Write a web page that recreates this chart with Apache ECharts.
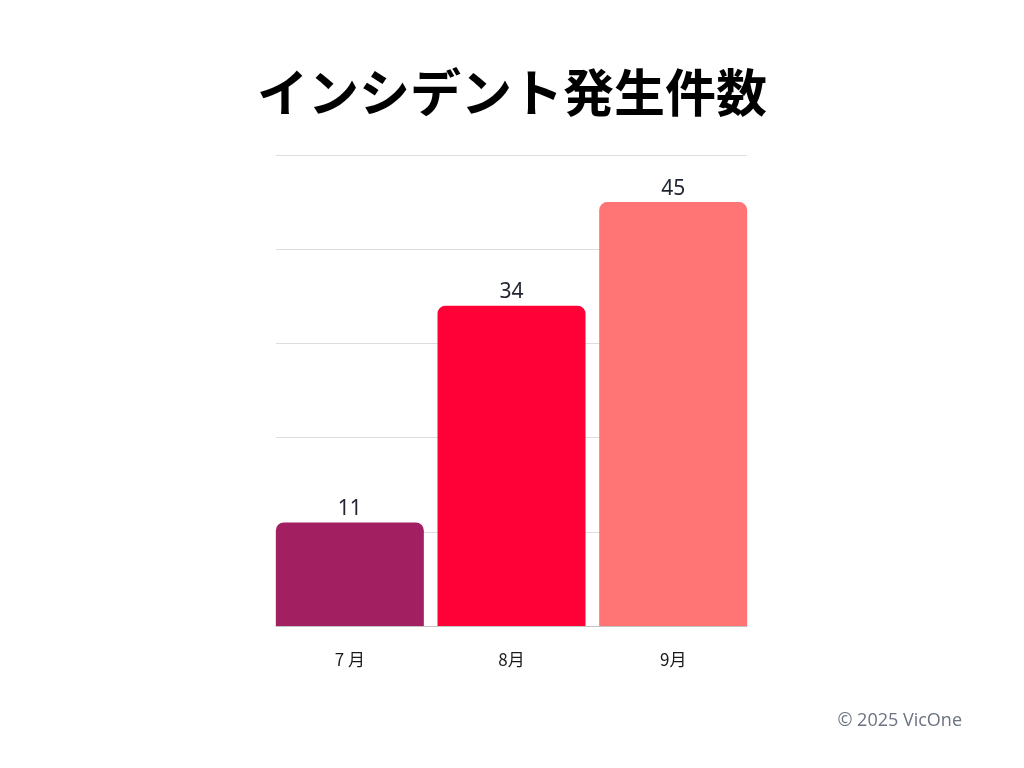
<!DOCTYPE html>
<html>
<head>
<meta charset="utf-8">
<script src="https://cdn.jsdelivr.net/npm/echarts@6/dist/echarts.min.js"></script>
<style>
  html, body { margin: 0; padding: 0; background: #fff; }
  #chart { width: 1024px; height: 768px; }
</style>
</head>
<body>
<div id="chart"></div>
<script>
const months = ["7 月", "8月", "9月"];
const incidents = [11, 34, 45];
const barColors = ["#A21F62", "#FF0037", "#FF7575"];

const chart = echarts.init(document.getElementById("chart"));
const font = "'Noto Sans CJK JP', 'Noto Sans', sans-serif";

const option = {
  backgroundColor: "#fff",
  animation: false,
  title: {
    text: "インシデント発生件数",
    left: "center",
    top: 62,
    textStyle: { fontFamily: font, fontSize: 51, fontWeight: "bold", color: "#000" }
  },
  graphic: [{
    type: "text",
    right: 62,
    top: 712,
    style: { text: "© 2025 VicOne", fontFamily: "'Open Sans', sans-serif", fontSize: 18, fill: "#6B7280" }
  }],
  grid: [
    // gridlines and axis line
    { left: 276, right: 277, top: 155, bottom: 142 },
    // bars, slightly wider so bars reach the gridline ends
    { left: 269, right: 270, top: 155, bottom: 142 }
  ],
  xAxis: [
    {
      gridIndex: 0, type: "category", data: months,
      axisLine: { lineStyle: { color: "#C4C4C4" } },
      axisTick: { show: false }, axisLabel: { show: false }
    },
    {
      gridIndex: 1, type: "category", data: months,
      axisLine: { show: false }, axisTick: { show: false },
      axisLabel: { margin: 25, fontFamily: font, fontSize: 17, color: "#1A1A1A" }
    }
  ],
  yAxis: [
    {
      gridIndex: 0, type: "value", min: 0, max: 50, interval: 10,
      axisLabel: { show: false }, axisLine: { show: false }, axisTick: { show: false },
      splitLine: { lineStyle: { color: "#DDDDDD" } }
    },
    {
      gridIndex: 1, type: "value", min: 0, max: 50, interval: 10, show: false
    }
  ],
  series: [{
    type: "bar",
    xAxisIndex: 1,
    yAxisIndex: 1,
    barWidth: 148,
    data: incidents.map((v, i) => ({ value: v, itemStyle: { color: barColors[i] } })),
    itemStyle: { borderRadius: [8, 8, 0, 0] },
    label: {
      show: true, position: "top", distance: 3,
      fontFamily: "'Noto Sans', sans-serif", fontSize: 21, color: "#1F2430"
    }
  }]
};

option && chart.setOption(option);
</script>
</body>
</html>
